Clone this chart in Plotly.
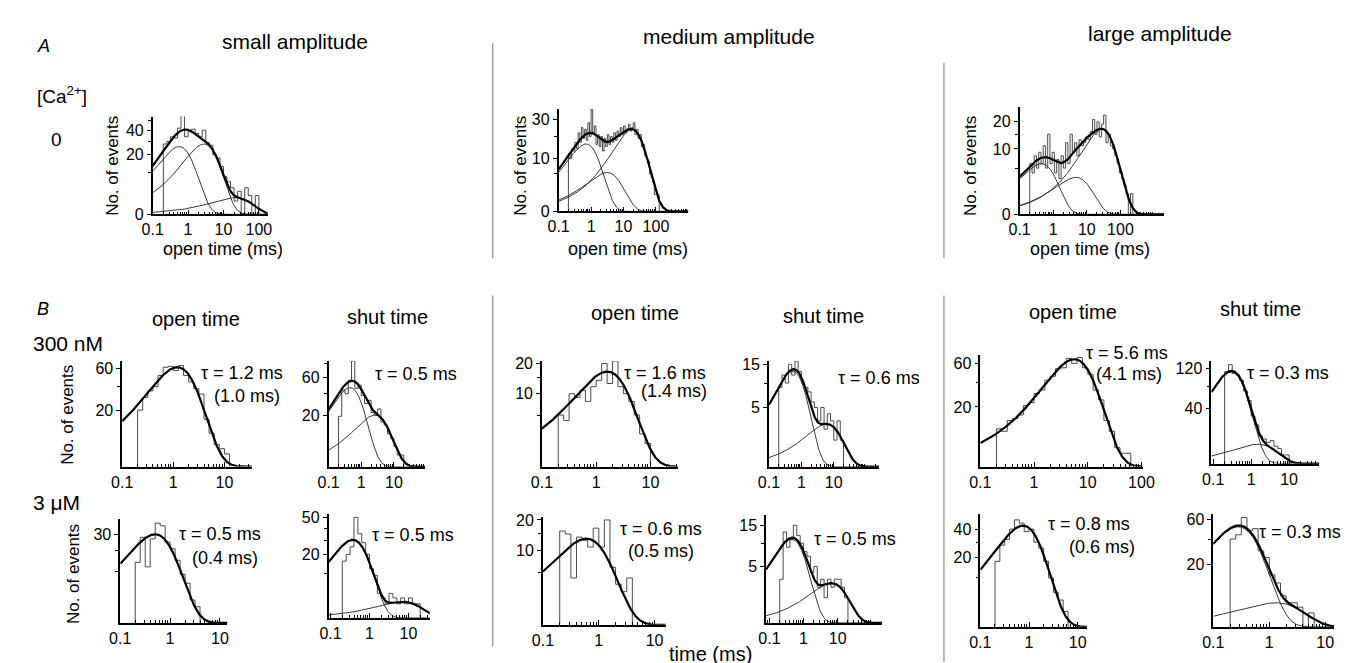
import numpy as np
import plotly.graph_objects as go

W, H = 1349, 663
FONT = "Liberation Sans, Arial, Helvetica, sans-serif"

# ---------------- data ----------------
# Histograms: counts per log-spaced bin, first bin starts at BIN_START ms
BIN_START = 0.2
a_bins_per_decade = [10, 20, 15]
b_bins_per_decade = 10

# A: [Ca2+] = 0, open time, small / medium / large amplitude
a_small_counts = [28, 30, 34, 33, 42, 55, 34, 40, 41, 37, 34, 40, 29, 27, 20, 18, 13, 8, 6, 4,
                  1, 3, 0, 4, 2, 0, 2]
a_medium_counts = [12, 10, 14, 13, 17, 14, 22, 17, 25, 19, 24, 18, 28, 20, 37, 22, 26, 16, 21, 15,
                   20, 13, 19, 15, 21, 16, 20, 17, 22, 18, 23, 20, 25, 21, 26, 22, 24, 27, 23, 25,
                   28, 21, 24, 19, 21, 15, 16, 11, 10, 9, 5, 4, 3, 1, 1, 1]
a_large_counts = [6, 4, 8, 5, 9, 6, 11, 5, 15, 6, 9, 4, 7, 3, 8, 5, 12, 6, 15, 9,
                  12, 8, 13, 11, 12, 14, 13, 16, 21, 15, 20, 14, 19, 23, 12, 15, 11, 10, 8, 6,
                  4, 3, 2, 1, 0, 1]
# fitted exponential components: time constant (ms) and peak height (events)
a_small_tau, a_small_peak = [0.56, 2.8, 21], [26, 28, 1.6]
a_medium_tau, a_medium_peak = [0.7, 3.1, 18], [16.2, 5.4, 24]
a_large_tau, a_large_peak = [0.44, 4.7, 28], [6, 3.2, 17]

# B: 300 nM
b300_open_small = [20, 30, 36, 40, 52, 62, 63, 58, 64, 52, 45, 38, 33, 14, 7, 3, 2, 1]
b300_shut_small = [19, 44, 40, 56, 84, 46, 50, 38, 30, 33, 22, 20, 25, 15, 13, 8, 6, 3, 1, 1]
b300_open_medium = [5, 4, 10, 9, 11, 8, 12, 14, 20, 13, 21, 12, 10, 8, 5, 2, 1]
b300_shut_medium = [9, 12, 10, 15, 12, 16, 13, 10, 9, 8, 6, 5, 3, 5, 2, 4, 3, 1, 3, 1]
b300_open_large = [8, 7, 12, 13, 15, 21, 23, 30, 33, 42, 46, 54, 55, 66, 60, 67, 55, 48, 33, 25,
                   12, 7, 2, 1, 1]
b300_shut_large = [112, 130, 108, 104, 92, 70, 53, 30, 20, 10, 8, 6, 7, 4, 3, 1, 1]
# B: 3 uM
b3_open_small = [14, 28, 12, 27, 38, 36, 25, 21, 15, 9, 6, 2, 1]
b3_shut_small = [16, 20, 25, 50, 35, 28, 20, 12, 9, 3, 2, 1, 3, 2, 1, 2, 1, 2, 1, 1]
b3_open_medium = [16, 15, 4, 14, 13, 11, 17, 11, 20, 6, 3, 2, 4]
b3_shut_medium = [3, 13, 9, 11, 15, 12, 10, 8, 7, 4, 5, 2, 3, 1, 3, 2, 3, 3, 2, 1]
b3_open_large = [18, 28, 32, 40, 48, 45, 38, 40, 30, 26, 18, 10, 5, 3, 1]
b3_shut_large = [40, 44, 62, 48, 50, 30, 25, 14, 10, 5, 3, 3, 2, 0, 1]

# fitted components for B (tau ms, peak events)
b300_open_small_fit = ([1.2], [62])
b300_shut_small_fit = ([0.45, 2.6], [47, 20])
b300_open_medium_fit = ([1.6], [17])
b300_shut_medium_fit = ([0.55, 6.0], [13, 2.6])
b300_open_large_fit = ([5.6], [65])
b300_shut_large_fit = ([0.3, 1.5], [112, 5])
b3_open_small_fit = ([0.5], [30])
b3_shut_small_fit = ([0.37, 7.0], [30, 1.3])
b3_open_medium_fit = ([0.6], [13.5])
b3_shut_medium_fit = ([0.45, 6.5], [11, 2.5])
b3_open_large_fit = ([0.75], [43])
b3_shut_large_fit = ([0.28, 1.3], [52, 3])

# tau labels
tau_labels = ["τ = 1.2 ms", "(1.0 ms)", "τ = 0.5 ms", "τ = 1.6 ms", "(1.4 ms)", "τ = 0.6 ms",
              "τ = 5.6 ms", "(4.1 ms)", "τ = 0.3 ms",
              "τ = 0.5 ms", "(0.4 ms)", "τ = 0.5 ms", "τ = 0.6 ms", "(0.5 ms)", "τ = 0.5 ms",
              "τ = 0.8 ms", "(0.6 ms)", "τ = 0.3 ms"]

# ---------------- panel layout (pixel boxes: x0, x1, ytop, ybottom) ----------------
XT3 = [0.1, 1, 10, 100]
XT2 = [0.1, 1, 10]
PANELS = [
    dict(c=a_small_counts, bpd=a_bins_per_decade[0], fit=(a_small_tau, a_small_peak),
         box=(136, 253, 105, 205), xr=(-1, 2.25), ymax=54, yt=[0, 20, 40], ym=[10, 30, 50], xt=XT3),
    dict(c=a_medium_counts, bpd=a_bins_per_decade[1], fit=(a_medium_tau, a_medium_peak),
         box=(549, 681, 97, 202), xr=(-1, 3.0), ymax=37.5, yt=[0, 10, 30], ym=[5, 20], xt=XT3),
    dict(c=a_large_counts, bpd=a_bins_per_decade[2], fit=(a_large_tau, a_large_peak),
         box=(1018, 1165, 95, 205), xr=(-1, 3.3), ymax=27, yt=[0, 10, 20], ym=[5, 15], xt=XT3),
    # B row 1 (300 nM)
    dict(c=b300_open_small, bpd=b_bins_per_decade, fit=b300_open_small_fit,
         box=(105, 237, 355, 463), xr=(-1, 1.54), ymax=70, yt=[20, 60], ym=[40], xt=XT2),
    dict(c=b300_shut_small, bpd=b_bins_per_decade, fit=b300_shut_small_fit,
         box=(315, 413, 355, 463), xr=(-1, 1.95), ymax=84, yt=[20, 60], ym=[40, 80], xt=XT2),
    dict(c=b300_open_medium, bpd=b_bins_per_decade, fit=b300_open_medium_fit,
         box=(532, 670, 355, 463), xr=(-1, 1.5), ymax=21, yt=[10, 20], ym=[5, 15], xt=XT2),
    dict(c=b300_shut_medium, bpd=b_bins_per_decade, fit=b300_shut_medium_fit,
         box=(763, 875, 355, 463), xr=(-1, 2.4), ymax=16, yt=[5, 15], ym=[10], xt=XT2),
    dict(c=b300_open_large, bpd=b_bins_per_decade, fit=b300_open_large_fit,
         box=(978, 1143, 349, 463), xr=(-1, 2.02), ymax=70, yt=[20, 60], ym=[40], xt=XT3),
    dict(c=b300_shut_large, bpd=b_bins_per_decade, fit=b300_shut_large_fit,
         box=(1213, 1323, 355, 460), xr=(-1.05, 1.8), ymax=140, yt=[40, 120], ym=[80], xt=XT2),
    # B row 2 (3 uM)
    dict(c=b3_open_small, bpd=b_bins_per_decade, fit=b3_open_small_fit,
         box=(103, 212, 517, 623), xr=(-1, 1.15), ymax=41, yt=[30], ym=[10, 20], xt=XT2),
    dict(c=b3_shut_small, bpd=b_bins_per_decade, fit=b3_shut_small_fit,
         box=(315, 418, 512, 618), xr=(-1.05, 1.55), ymax=53, yt=[20, 50], ym=[10, 30, 40], xt=XT2),
    dict(c=b3_open_medium, bpd=b_bins_per_decade, fit=b3_open_medium_fit,
         box=(533, 658, 515, 625), xr=(-1, 1.2), ymax=21, yt=[10, 20], ym=[5, 15], xt=XT2),
    dict(c=b3_shut_medium, bpd=b_bins_per_decade, fit=b3_shut_medium_fit,
         box=(760, 878, 513, 623), xr=(-1.1, 2.3), ymax=18.2, yt=[5, 15], ym=[10], xt=XT2),
    dict(c=b3_open_large, bpd=b_bins_per_decade, fit=b3_open_large_fit,
         box=(978, 1087, 512, 627), xr=(-1, 1.2), ymax=53, yt=[20, 40], ym=[10, 30], xt=XT2),
    dict(c=b3_shut_large, bpd=b_bins_per_decade, fit=b3_shut_large_fit,
         box=(1215, 1338, 512, 627), xr=(-1, 1.16), ymax=65.6, yt=[20, 60], ym=[40], xt=XT2),
]


def minor_log_ticks(xr):
    vals = []
    for d in range(int(np.floor(xr[0])), int(np.ceil(xr[1])) + 1):
        for m in range(2, 10):
            v = m * 10.0 ** d
            if 10 ** xr[0] < v < 10 ** xr[1]:
                vals.append(v)
    return vals


def fmt(v):
    return ("%g" % v)


fig = go.Figure()
layout = {}
for i, p in enumerate(PANELS, start=1):
    sx = "" if i == 1 else str(i)
    xref, yref = "x" + sx, "y" + sx
    counts = np.asarray(p["c"], dtype=float)
    edges = BIN_START * 10 ** (np.arange(len(counts) + 1) / p["bpd"])
    hx = [edges[0]]
    hy = [0.0]
    for k, cnt in enumerate(counts):
        hx += [edges[k], edges[k + 1]]
        hy += [cnt, cnt]
    hx.append(edges[-1])
    hy.append(0.0)
    fig.add_trace(go.Scatter(x=hx, y=np.sqrt(hy), mode="lines",
                             line=dict(color="#4a4a4a", width=1),
                             xaxis=xref, yaxis=yref, hoverinfo="skip", showlegend=False))
    taus, peaks = p["fit"]
    t = np.logspace(p["xr"][0], p["xr"][1], 500)
    comps = [a * (t / tau) * np.exp(1 - t / tau) for tau, a in zip(taus, peaks)]
    if len(comps) > 1:
        for cc in comps:
            fig.add_trace(go.Scatter(x=t, y=np.sqrt(cc), mode="lines",
                                     line=dict(color="#222", width=0.9),
                                     xaxis=xref, yaxis=yref, hoverinfo="skip", showlegend=False))
    total = np.sum(comps, axis=0)
    fig.add_trace(go.Scatter(x=t, y=np.sqrt(total), mode="lines",
                             line=dict(color="black", width=2.2),
                             xaxis=xref, yaxis=yref, hoverinfo="skip", showlegend=False))

    x0, x1, yt, yb = p["box"]
    xt_in = [v for v in p["xt"] if p["xr"][0] - 1e-9 <= np.log10(v) <= p["xr"][1] + 1e-9]
    layout["xaxis" + sx] = dict(
        type="log", domain=[x0 / W, x1 / W], range=list(p["xr"]), anchor=yref,
        showline=True, linecolor="black", linewidth=1.6, showgrid=False, zeroline=False,
        ticks="inside", ticklen=5, tickwidth=1.3, tickcolor="black",
        tickmode="array", tickvals=xt_in, ticktext=[fmt(v) for v in xt_in],
        tickfont=dict(family=FONT, size=16, color="black"),
        minor=dict(tickmode="array", tickvals=minor_log_ticks(p["xr"]), ticks="inside",
                   ticklen=3, tickwidth=1, tickcolor="black", showgrid=False),
        fixedrange=True,
    )
    layout["yaxis" + sx] = dict(
        domain=[1 - yb / H, 1 - yt / H], range=[0, np.sqrt(p["ymax"])], anchor=xref,
        showline=True, linecolor="black", linewidth=1.6, showgrid=False, zeroline=False,
        ticks="outside", ticklen=4, tickwidth=1.3, tickcolor="black",
        tickmode="array", tickvals=list(np.sqrt(p["yt"])), ticktext=[fmt(v) for v in p["yt"]],
        tickfont=dict(family=FONT, size=16, color="black"),
        minor=dict(tickmode="array", tickvals=list(np.sqrt(p["ym"])), ticks="outside",
                   ticklen=3, tickwidth=1, tickcolor="black", showgrid=False),
        fixedrange=True,
    )

annotations = []


def txt(s, x, y, size=16, anchor="center", angle=0, italic=False):
    annotations.append(dict(
        text=("<i>%s</i>" % s) if italic else s, x=x / W, y=1 - y / H,
        xref="paper", yref="paper", xanchor=anchor, yanchor="middle",
        showarrow=False, textangle=angle,
        font=dict(family=FONT, size=size, color="black")))


# headings
txt("A", 16, 33, 18, "left", italic=True)
txt("small amplitude", 281, 28, 21)
txt("medium amplitude", 722, 23, 21)
txt("large amplitude", 1161, 20, 21)
txt("[Ca<sup>2+</sup>]", 16, 83, 19, "left")
txt("0", 38, 128, 19)
for xc in (95, 510, 968):
    txt("No. of events", xc, 155, 17, angle=-90)
for xc in (208, 620, 1090):
    txt("open time (ms)", xc, 240, 18)

txt("B", 16, 302, 18, "left", italic=True)
for xc, s, yc in ((180, "open time", 312), (375, "shut time", 310), (627, "open time", 306),
                  (818, "shut time", 309), (1072, "open time", 305), (1263, "shut time", 302)):
    txt(s, xc, yc, 20)
txt("300 nM", 12, 337, 21, "left")
txt("3 μM", 12, 500, 21, "left")
txt("No. of events", 50, 410, 17, angle=-90)
txt("No. of events", 55, 573, 17, angle=-90)
txt("time (ms)", 703, 655, 20)

tau_pos = [(227, 367), (232, 391), (404, 368), (657, 367), (666, 386), (875, 372),
           (1127, 347), (1129, 368), (1291, 367),
           (204, 532), (210, 557), (401, 533), (653, 527), (653, 549), (850, 537),
           (1089, 522), (1102, 545), (1303, 530)]
for s, (xc, yc) in zip(tau_labels, tau_pos):
    txt(s, xc, yc, 18)

shapes = []
for xl, segs in ((482, ((30, 250), (288, 647))), (941, ((50, 250), (288, 663)))):
    for y0, y1 in segs:
        shapes.append(dict(type="line", xref="paper", yref="paper",
                           x0=xl / W, x1=xl / W, y0=1 - y0 / H, y1=1 - y1 / H,
                           line=dict(color="#777", width=1)))

fig.update_layout(
    width=W, height=H, margin=dict(l=0, r=0, t=0, b=0),
    paper_bgcolor="white", plot_bgcolor="white", showlegend=False,
    annotations=annotations, shapes=shapes, **layout,
)
fig.write_html("out.html")
